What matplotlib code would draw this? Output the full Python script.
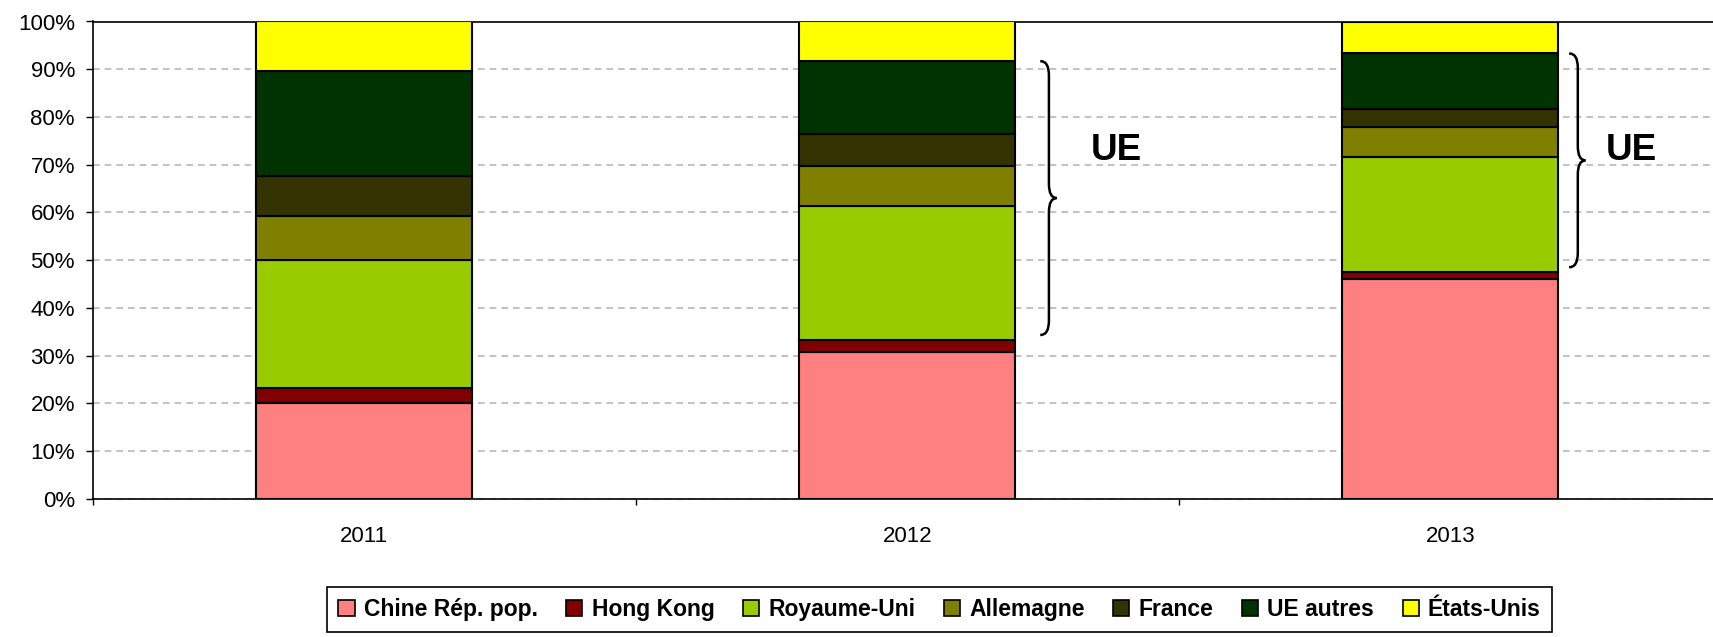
import numpy as np
import matplotlib.pyplot as plt
from matplotlib.path import Path
from matplotlib.patches import PathPatch, Patch

plt.rcParams['font.family'] = ['Liberation Sans', 'DejaVu Sans']

# parts des pays (%), par annee
years = ['2011', '2012', '2013']
series = ['Chine Rép. pop.', 'Hong Kong', 'Royaume-Uni', 'Allemagne', 'France', 'UE autres', 'États-Unis']
chine = [20.0, 30.7, 46.0]
hong_kong = [3.1, 2.6, 1.5]
royaume_uni = [26.9, 28.0, 24.1]
allemagne = [9.2, 8.4, 6.3]
france = [8.5, 6.7, 3.8]
ue_autres = [22.0, 15.3, 11.6]
etats_unis = [10.3, 8.3, 6.7]
colors = ['#FF8080', '#800000', '#99CC00', '#808000', '#333300', '#003300', '#FFFF00']

values = np.array([chine, hong_kong, royaume_uni, allemagne, france, ue_autres, etats_unis])

fig = plt.figure(figsize=(17.13, 6.37), dpi=100)
ax = fig.add_axes([92.7 / 1713, 138.3 / 637, 1629 / 1713, 477.2 / 637])

x = np.arange(len(years))
bottom = np.zeros(len(years))
for vals, col in zip(values, colors):
    ax.bar(x, vals, 0.398, bottom=bottom, color=col, edgecolor='black', linewidth=1.5, zorder=3)
    bottom += vals

ax.set_xlim(-0.5, 2.5)
ax.set_ylim(0, 100)
ax.set_yticks(np.arange(0, 101, 10))
ax.set_yticklabels([f'{v}%' for v in range(0, 101, 10)])
ax.yaxis.grid(True, color='#b8b8b8', linestyle=(0, (4, 3)), linewidth=1.2, zorder=0)
ax.set_xticks(x)
ax.set_xticklabels(years)
ax.set_xticks(np.arange(-0.5, 3, 1), minor=True)
ax.tick_params(axis='x', which='major', length=0, pad=20, labelsize=16)
ax.tick_params(axis='x', which='minor', length=4.5, width=1)
ax.tick_params(axis='y', length=4.8, width=1, pad=8, labelsize=16)
for s in ['left', 'bottom', 'top']:
    ax.spines[s].set_linewidth(1.2)
ax.spines['right'].set_visible(False)


def brace(ax, xl, xs, xt, lo, hi, hook):
    mid = (lo + hi) / 2
    verts = [(xl, hi), (xs, hi), (xs, hi - hook),
             (xs, mid + hook),
             (xs, mid), (xt, mid),
             (xs, mid), (xs, mid - hook),
             (xs, lo + hook),
             (xs, lo), (xl, lo)]
    codes = [Path.MOVETO, Path.CURVE3, Path.CURVE3,
             Path.LINETO,
             Path.CURVE3, Path.CURVE3,
             Path.CURVE3, Path.CURVE3,
             Path.LINETO,
             Path.CURVE3, Path.CURVE3]
    ax.add_patch(PathPatch(Path(verts, codes), facecolor='none', edgecolor='black',
                           linewidth=1.8, clip_on=False, zorder=4))


# accolades UE (Royaume-Uni + Allemagne + France + UE autres)
cum = np.cumsum(values, axis=0)
for i, dx, tx in [(1, 0.245, 0.338), (2, 0.219, 0.287)]:
    lo = cum[1][i] + 1.0
    hi = cum[5][i]
    brace(ax, x[i] + dx, x[i] + dx + 0.016, x[i] + dx + 0.03, lo, hi, 3.0)
    ax.text(x[i] + tx, 72.9, 'UE', fontsize=26.5, fontweight='bold', va='center', ha='left')

handles = [Patch(facecolor=c, edgecolor='black', linewidth=1.2) for c in colors]
leg = fig.legend(handles, series, loc='center', bbox_to_anchor=(0.5485, 0.0432), ncol=7,
                 frameon=True, fancybox=False, edgecolor='black', framealpha=1,
                 prop={'weight': 'bold', 'size': 16.5}, handlelength=0.7, handleheight=0.7,
                 handletextpad=0.4, columnspacing=1.25, borderpad=0.5)
leg.get_frame().set_linewidth(1.2)

fig.savefig('out.png', dpi=100)
